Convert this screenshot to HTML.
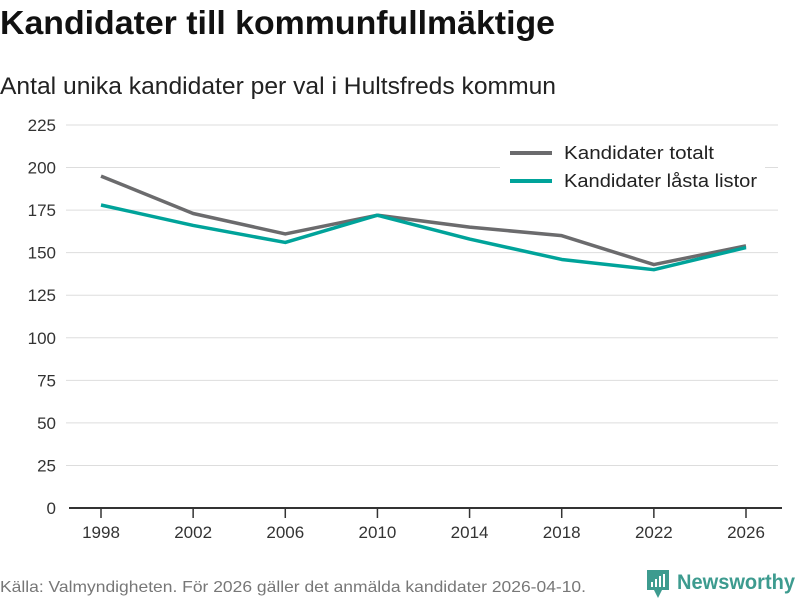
<!DOCTYPE html>
<html><head><meta charset="utf-8"><style>body{margin:0;background:#fff}svg{display:block;font-family:"Liberation Sans",sans-serif}</style></head>
<body>
<svg id="chart" width="800" height="600">
<text x="0" y="34" font-size="33" font-weight="bold" fill="#111" textLength="555" lengthAdjust="spacingAndGlyphs">Kandidater till kommunfullmäktige</text>
<text x="0" y="94" font-size="24" fill="#222" textLength="556" lengthAdjust="spacingAndGlyphs">Antal unika kandidater per val i Hultsfreds kommun</text>
<g id="grid"></g><g id="lines"></g>
<g>
<rect x="500" y="136" width="265" height="62" fill="#fff"/>
<line x1="510" y1="153" x2="552" y2="153" stroke="#6b6b6d" stroke-width="4"/>
<text x="564" y="159" font-size="18" fill="#222" textLength="150" lengthAdjust="spacingAndGlyphs">Kandidater totalt</text>
<line x1="510" y1="181" x2="552" y2="181" stroke="#00a39a" stroke-width="4"/>
<text x="564" y="187" font-size="18" fill="#222" textLength="193" lengthAdjust="spacingAndGlyphs">Kandidater låsta listor</text>
</g>
<text x="0" y="592" font-size="16" fill="#777" textLength="586" lengthAdjust="spacingAndGlyphs">Källa: Valmyndigheten. För 2026 gäller det anmälda kandidater 2026-04-10.</text>
<g>
<path d="M647 570h22v20h-7l-4 8-4-8h-7z" fill="#3d9b8f"/>
<rect x="651" y="582" width="2" height="5" fill="#fff"/><rect x="655" y="579" width="2" height="8" fill="#fff"/><rect x="659" y="576" width="2" height="11" fill="#fff"/><rect x="663" y="574" width="2" height="13" fill="#fff"/>
<text x="677" y="589" font-size="21" font-weight="bold" fill="#3d9b8f" textLength="118" lengthAdjust="spacingAndGlyphs">Newsworthy</text>
</g>
</svg>
<script>
const years=[1998,2002,2006,2010,2014,2018,2022,2026];
const totalt=[195,173,161,172,165,160,143,154];
const lasta=[178,166,156,172,158,146,140,153];
const yTicks=[0,25,50,75,100,125,150,175,200,225];
const NS="http://www.w3.org/2000/svg";
const x=v=>101+(v-1998)*(746-101)/28;
const y=v=>508-v*(508-125)/225;
const grid=document.getElementById('grid'),lines=document.getElementById('lines');
function mk(tag,a,p){const e=document.createElementNS(NS,tag);for(const k in a)e.setAttribute(k,a[k]);p.appendChild(e);return e;}
yTicks.forEach(t=>{
 if(t>0){const g=mk('line',{x1:66,x2:778,y1:y(t),y2:y(t),stroke:'#ddd','stroke-width':1},grid);
 
 }
 const l=mk('text',{x:56,y:y(t)+6,'font-size':17,fill:'#333','text-anchor':'end'},grid);l.textContent=t;
 
 
});
const ax=mk('line',{x1:69,x2:782,y1:508,y2:508,stroke:'#333','stroke-width':2},grid);


years.forEach(v=>{
 const tk=mk('line',{x1:x(v),x2:x(v),y1:508,y2:518,stroke:'#333','stroke-width':1.5},grid);
 
 
 const l=mk('text',{x:x(v),y:538,'font-size':17,fill:'#333','text-anchor':'middle'},grid);l.textContent=v;
 
 
});
function series(d,c,n){
 const p=mk('polyline',{points:d.map((v,i)=>x(years[i])+','+y(v)).join(' '),fill:'none',stroke:c,'stroke-width':3.5,'stroke-linejoin':'round'},lines);
 
 
}
series(totalt,'#6b6b6d','line-kandidater-totalt');
series(lasta,'#00a39a','line-kandidater-lasta-listor');
</script>
</body></html>
